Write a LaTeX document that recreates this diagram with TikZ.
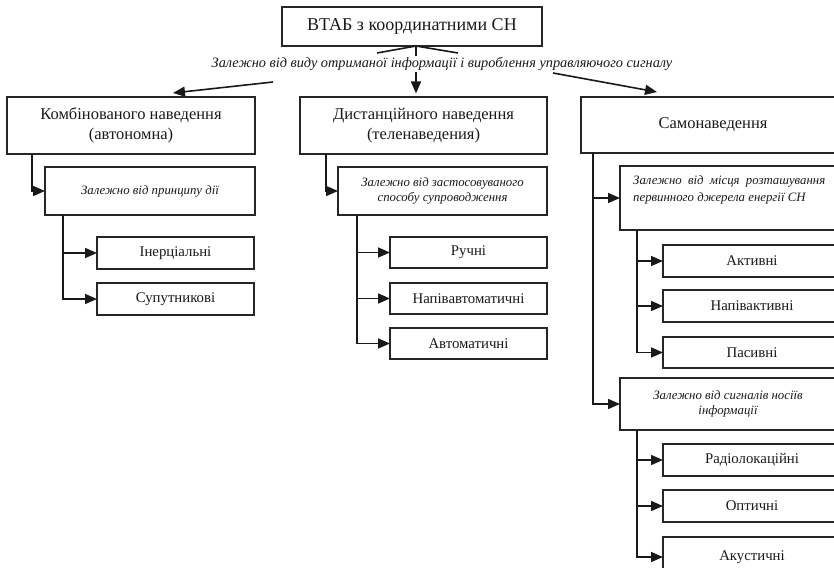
\documentclass[tikz,border=0pt]{standalone}
\usepackage{fontspec}
\setmainfont{Liberation Serif}
\usetikzlibrary{arrows.meta,calc}
\begin{document}
\begin{tikzpicture}[x=1pt,y=-1pt,
  bx/.style={draw=black!85, line width=1.3pt, anchor=north west, inner sep=0pt, outer sep=0pt, align=center, text=black!90},
  lvone/.style={bx, font=\fontsize{16.5}{19.5}\selectfont},
  leaf/.style={bx, font=\fontsize{14.8}{17}\selectfont},
  crit/.style={bx, font=\fontsize{12.8}{15.5}\selectfont\itshape},
  conn/.style={draw=black!90, line width=1.6pt},
  arr/.style={conn, -{Triangle[length=12pt,width=10pt]}}]
\useasboundingbox (0,0) rectangle (834,567);
\clip (0,0) rectangle (834,567);

% top
\node[bx, font=\fontsize{18}{20}\selectfont, minimum width=260pt, minimum height=39pt] (top) at (282,7) {ВТАБ з координатними СН};

% level 1
\node[lvone, minimum width=248pt, minimum height=57pt] (k1) at (7,97) {Комбінованого наведення\\(автономна)};
\node[lvone, minimum width=247pt, minimum height=57pt] (d1) at (300,97) {Дистанційного наведення\\(теленаведения)};
\node[lvone, minimum width=264pt, minimum height=56pt] (s1) at (581,97) {Самонаведення};

% left branch
\node[crit, minimum width=210pt, minimum height=48pt] (k2) at (45,167) {Залежно від принципу дії};
\node[leaf, minimum width=157pt, minimum height=32pt] (k3) at (97,237) {Інерціальні};
\node[leaf, minimum width=157pt, minimum height=32pt] (k4) at (97,283) {Супутникові};

% middle branch
\node[crit, minimum width=209pt, minimum height=48pt] (d2) at (338,167) {Залежно від застосовуваного\\способу супроводження};
\node[leaf, minimum width=157pt, minimum height=31pt] (d3) at (390,237) {Ручні};
\node[leaf, minimum width=157pt, minimum height=31pt] (d4) at (390,283) {Напівавтоматичні};
\node[leaf, minimum width=157pt, minimum height=31pt] (d5) at (390,328) {Автоматичні};

% right branch
\node[bx, minimum width=225pt, minimum height=64pt] (s2) at (620,166) {};
\node[anchor=north west, inner sep=0pt, text width=192pt, align=justify, text=black!90,
      font=\fontsize{12.8}{17}\selectfont\itshape] (s2t) at ($(s2.north west)+(13,9)$)
      {Залежно від місця розташування\linebreak первинного джерела енергії СН};
\node[leaf, minimum width=178pt, minimum height=32pt] (s3) at (663,245) {Активні};
\node[leaf, minimum width=178pt, minimum height=32pt] (s4) at (663,290) {Напівактивні};
\node[leaf, minimum width=178pt, minimum height=31pt] (s5) at (663,337) {Пасивні};
\node[crit, minimum width=216pt, minimum height=52pt] (s6) at (620,378) {Залежно від сигналів носіїв\\інформації};
\node[leaf, minimum width=178pt, minimum height=32pt] (s7) at (663,444) {Радіолокаційні};
\node[leaf, minimum width=178pt, minimum height=32pt] (s8) at (663,490) {Оптичні};
\node[leaf, minimum width=178pt, minimum height=40pt] (s9) at (663,537) {Акустичні};

% top fan
\coordinate (vx) at (416,0);
\coordinate (fl) at (377,53);
\coordinate (fr) at (458,53);
\coordinate (la) at (273,82);
\coordinate (lt) at (173,93);
\coordinate (ra) at (553,73);
\coordinate (rt) at (657,92);
\draw[conn] (top.south -| vx) -- (fl);
\draw[conn] (top.south -| vx) -- (fr);
\draw[arr, shorten >=3.5pt] (top.south -| vx) -- (d1.north -| vx);
\node[fill=white, inner sep=1.5pt, text=black!90, font=\fontsize{14.3}{16}\selectfont\itshape] (lab) at (442,64)
  {Залежно від виду отриманої інформації і вироблення управляючого сигналу};
\draw[arr] (la) -- (lt);
\draw[arr] (ra) -- (rt);

% vertical x positions
\coordinate (kx) at (32,0);
\coordinate (kcx) at (63,0);
\coordinate (dx) at (326,0);
\coordinate (dcx) at (357,0);
\coordinate (sx) at (593,0);
\coordinate (scx) at (637,0);

% left
\draw[arr] (k1.south -| kx) |- (k2.west);
\draw[arr] (k2.south -| kcx) |- (k3.west);
\draw[arr] (k2.south -| kcx) |- (k4.west);
% middle
\draw[arr] (d1.south -| dx) |- (d2.west);
\draw[arr] (d2.south -| dcx) |- (d3.west);
\draw[arr] (d2.south -| dcx) |- (d4.west);
\draw[arr] (d2.south -| dcx) |- (d5.west);
% right
\draw[arr] (s1.south -| sx) |- (s2.west);
\draw[arr] (s1.south -| sx) |- (s6.west);
\draw[arr] (s2.south -| scx) |- (s3.west);
\draw[arr] (s2.south -| scx) |- (s4.west);
\draw[arr] (s2.south -| scx) |- (s5.west);
\draw[arr] (s6.south -| scx) |- (s7.west);
\draw[arr] (s6.south -| scx) |- (s8.west);
\draw[arr] (s6.south -| scx) |- (s9.west);
\end{tikzpicture}
\end{document}
